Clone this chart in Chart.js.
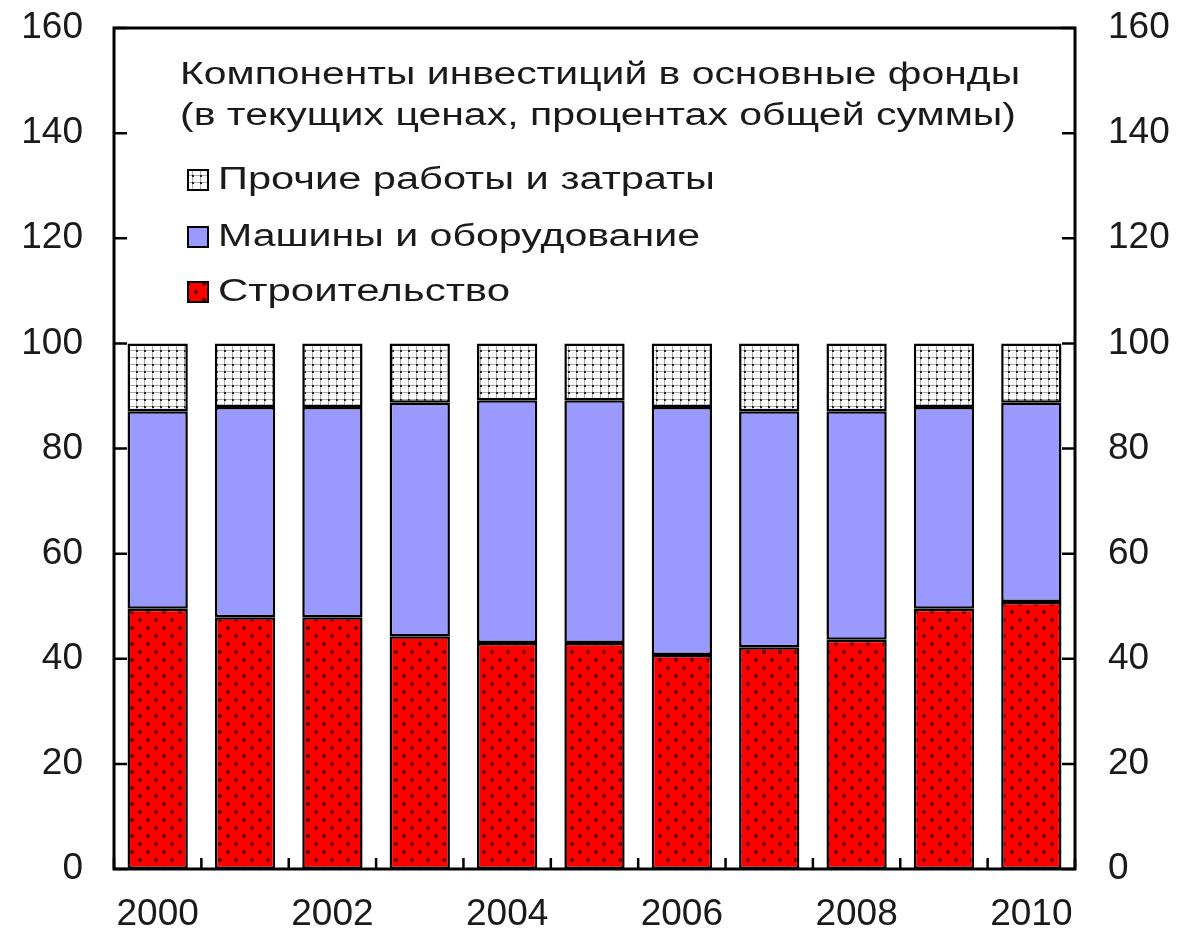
<!DOCTYPE html>
<html>
<head>
<meta charset="utf-8">
<script src="https://cdn.jsdelivr.net/npm/chart.js@4.4.1/dist/chart.umd.min.js"></script>
<style>
  html, body { margin: 0; padding: 0; background: #fff; }
  #wrap { width: 1183px; height: 936px; }
</style>
</head>
<body>
<div id="wrap"><canvas id="chart"></canvas></div>
<script>
const years = ['2000', '2001', '2002', '2003', '2004', '2005', '2006', '2007', '2008', '2009', '2010'];
const construction = [49.5, 47.9, 47.9, 44.3, 43.0, 43.0, 40.7, 42.2, 43.6, 49.5, 50.8];
const machinery = [37.6, 40.0, 40.0, 44.4, 46.2, 46.2, 47.2, 44.9, 43.5, 38.4, 37.9];
const other = [12.9, 12.1, 12.1, 11.3, 10.8, 10.8, 12.1, 12.9, 12.9, 12.1, 11.3];
const yTicks = [0, 20, 40, 60, 80, 100, 120, 140, 160];

const titleLines = [
  'Компоненты инвестиций в основные фонды',
  '(в текущих ценах, процентах общей суммы)'
];
const labels = ['Строительство', 'Машины и оборудование', 'Прочие работы и затраты'];

const FONT = '"Liberation Sans", Arial, sans-serif';

// fill patterns
function makePattern(w, h, draw) {
  const c = document.createElement('canvas');
  c.width = w; c.height = h;
  const g = c.getContext('2d');
  draw(g);
  return document.getElementById('chart').getContext('2d').createPattern(c, 'repeat');
}

const redDots = makePattern(16, 16, g => {
  g.fillStyle = '#ff0000';
  g.fillRect(0, 0, 16, 16);
  g.fillStyle = '#6a0000';
  g.beginPath(); g.arc(4, 4, 2.1, 0, Math.PI * 2); g.fill();
  g.beginPath(); g.arc(12, 12, 2.1, 0, Math.PI * 2); g.fill();
});

const greyDots = makePattern(8, 7, g => {
  g.fillStyle = '#ffffff';
  g.fillRect(0, 0, 8, 7);
  g.fillStyle = '#aaaaaa';
  g.fillRect(0, 0, 8, 1);
  g.fillRect(0, 0, 1, 7);
  g.fillStyle = '#222222';
  g.fillRect(0, 0, 2, 2);
});

const blueFill = '#9999ff';

// text squeezed/stretched to a given width
function fitText(ctx, text, x, y, width) {
  const w = ctx.measureText(text).width;
  ctx.save();
  ctx.translate(x, y);
  ctx.scale(width / w, 1);
  ctx.fillText(text, 0, 0);
  ctx.restore();
}

const framePlugin = {
  id: 'frame',
  afterDraw(chart) {
    const { ctx, chartArea: a, scales } = chart;
    ctx.save();
    ctx.strokeStyle = '#000';
    ctx.lineWidth = 2.5;
    // inward ticks on y axes
    ctx.beginPath();
    yTicks.forEach(v => {
      const y = scales.y.getPixelForValue(v);
      ctx.moveTo(a.left, y); ctx.lineTo(a.left + 13, y);
      ctx.moveTo(a.right, y); ctx.lineTo(a.right - 13, y);
    });
    // x ticks between categories
    const step = scales.x.getPixelForValue(1) - scales.x.getPixelForValue(0);
    for (let i = 0; i <= years.length; i++) {
      const x = scales.x.getPixelForValue(i) - step / 2;
      ctx.moveTo(x, a.bottom); ctx.lineTo(x, a.bottom - 11);
    }
    ctx.stroke();
    ctx.lineWidth = 3;
    ctx.strokeRect(a.left, a.top, a.right - a.left, a.bottom - a.top);

    // title + legend inside the plot
    ctx.fillStyle = '#1a1a1a';
    ctx.textBaseline = 'middle';
    ctx.font = '31px ' + FONT;
    fitText(ctx, titleLines[0], 180, 75, 840);
    fitText(ctx, titleLines[1], 180, 116, 836);

    const items = [
      { ds: 2, y: 180, w: 497 },
      { ds: 1, y: 237, w: 482 },
      { ds: 0, y: 292, w: 292 }
    ];
    items.forEach(it => {
      const ds = chart.data.datasets[it.ds];
      ctx.fillStyle = ds.backgroundColor;
      ctx.fillRect(188, it.y - 10, 20, 20);
      ctx.lineWidth = 2;
      ctx.strokeStyle = '#000';
      ctx.strokeRect(188, it.y - 10, 20, 20);
      ctx.fillStyle = '#1a1a1a';
      fitText(ctx, ds.label, 218, it.y, it.w);
    });
    ctx.restore();
  }
};

const barStyle = {
  borderColor: '#000',
  borderWidth: 2.5,
  borderSkipped: false,
  barPercentage: 0.69,
  categoryPercentage: 1
};

const fixWidth = w => s => { s.width = w; s.paddingTop = 0; s.paddingBottom = 0; };

new Chart(document.getElementById('chart'), {
  type: 'bar',
  data: {
    labels: years,
    datasets: [
      { label: labels[0], data: construction, backgroundColor: redDots, ...barStyle },
      { label: labels[1], data: machinery, backgroundColor: blueFill, ...barStyle },
      { label: labels[2], data: other, backgroundColor: greyDots, ...barStyle }
    ]
  },
  options: {
    responsive: true,
    maintainAspectRatio: false,
    animation: false,
    layout: { padding: { top: 28, left: 0, right: 0, bottom: 0 } },
    plugins: {
      legend: { display: false },
      tooltip: { enabled: false }
    },
    scales: {
      x: {
        stacked: true,
        grid: { display: false, drawTicks: false },
        border: { display: false },
        ticks: {
          autoSkip: false,
          maxRotation: 0,
          padding: 24,
          color: '#1a1a1a',
          font: { family: FONT, size: 37 },
          callback: (v, i) => (i % 2 === 0 ? years[i] : '')
        },
        afterFit: s => { s.height = 67; s.paddingLeft = 0; s.paddingRight = 0; }
      },
      y: {
        stacked: true,
        position: 'left',
        min: 0,
        max: 160,
        grid: { display: false, drawTicks: false },
        border: { display: false },
        ticks: {
          stepSize: 20,
          padding: 31,
          color: '#1a1a1a',
          font: { family: FONT, size: 37 }
        },
        afterFit: fixWidth(114)
      },
      y2: {
        position: 'right',
        min: 0,
        max: 160,
        grid: { display: false, drawTicks: false },
        border: { display: false },
        ticks: {
          stepSize: 20,
          padding: 33,
          color: '#1a1a1a',
          font: { family: FONT, size: 37 }
        },
        afterFit: fixWidth(108)
      }
    }
  },
  plugins: [framePlugin]
});
</script>
</body>
</html>
